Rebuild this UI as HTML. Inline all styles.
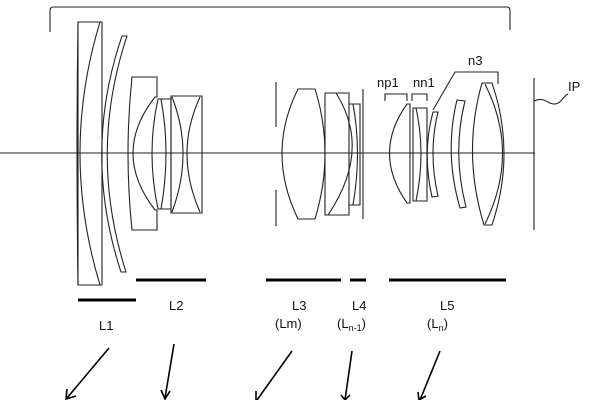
<!DOCTYPE html>
<html><head><meta charset="utf-8"><style>
html,body{margin:0;padding:0;background:#fff}
svg{display:block}
text{font-family:"Liberation Sans","DejaVu Sans",sans-serif;fill:#111}
</style></head><body>
<svg width="600" height="400" viewBox="0 0 600 400" xmlns="http://www.w3.org/2000/svg">
<g fill="none" stroke="#222" stroke-width="1.1">
<path d="M50,32 L50,10 Q50,7 54,7 L507,7 Q510,7 510,11 L510,30"/>
<line x1="0" y1="153" x2="535" y2="153"/>
<path d="M78,22 L102,22 L102,285 L78,285 Z"/>
<path d="M100,22 Q60,153 100,285"/>
<path d="M122,36 L127,36 Q88,153 126,272 L121,272 Q82,153 122,36 Z"/>
<path d="M78,22 Q76,153 78,285"/>
<path d="M132,77 L157,77 L157,97 L155,97 Q111,153 155,210 L157,210 L157,230 L132,230 Q124,153 132,77 Z"/>
<path d="M158,99 L171,99 L171,209 L158,209 Q146,153 158,99 Z"/>
<path d="M161,99 Q171,153 161,209"/>
<path d="M171,96 L202,96 L202,213 L171,213 Z"/>
<path d="M172,97 Q194,153 172,212"/>
<path d="M200,97 Q174,153 200,212"/>
<line x1="276" y1="82" x2="276" y2="127"/>
<line x1="276" y1="190" x2="276" y2="226"/>
<path d="M298,89 L315,89 Q335,153 315,219 L298,219 Q266,153 298,89 Z"/>
<path d="M325,93 L349,93 L349,215 L325,215 Z"/>
<path d="M336,93 Q372,150 328,215"/>
<path d="M349,104 L360,104 L360,205 L349,205"/>
<path d="M353,104 Q362,153 353,205"/>
<line x1="363" y1="89" x2="363" y2="219"/>
<path d="M407,104 L410,104 L410,203 L407,203 Q372,153 407,104 Z"/>
<path d="M413,108 L427,108 L427,201 L413,201 Z"/>
<path d="M416,108 Q426,153 416,201"/>
<path d="M433,112 L438,112 Q428,153 438,196 L432,197 Q422,153 433,112 Z"/>
<path d="M457,100 L465,101 Q452,153 466,207 L460,208 Q444,153 457,100 Z"/>
<path d="M482,83 L492,83 Q516,153 492,225 L484,225 Q462,153 482,83 Z"/>
<path d="M485,84 Q520,153 485,224"/>
<path d="M385,101 L385,94 L407,94 L407,101"/>
<path d="M412,101 L412,94 L427,94 L427,101"/>
<path d="M433,110 L455,72 L498,72 L498,84"/>
<line x1="534" y1="78" x2="534" y2="230"/>
<path d="M534,101 C545,96 548,105 555,104 C562,103 563,96 568,94"/>
</g>
<g stroke="#000" stroke-width="3">
<line x1="136" y1="280" x2="206" y2="280"/>
<line x1="266" y1="280" x2="341" y2="280"/>
<line x1="350" y1="280" x2="366" y2="280"/>
<line x1="389" y1="280" x2="506" y2="280"/>
<line x1="78" y1="300" x2="136" y2="300"/>
</g>
<g stroke="#000" stroke-width="1.6" fill="none">
<line x1="109" y1="348" x2="67" y2="398"/><path d="M67,389 L66,399 L76,396"/>
<line x1="174" y1="344" x2="165" y2="398"/><path d="M161,390 L165,399 L170,391"/>
<line x1="292" y1="351" x2="257" y2="400"/><path d="M256,391 L256,400"/>
<line x1="352" y1="351" x2="345" y2="400"/><path d="M341,395 L345,400 L350,395"/>
<line x1="440" y1="351" x2="420" y2="400"/><path d="M418,392 L419,400 L426,396"/>
</g>
<g font-size="13">
<text x="377" y="87">np1</text>
<text x="413" y="87">nn1</text>
<text x="468" y="65">n3</text>
<text x="568" y="91">IP</text>
<text x="99" y="330">L1</text>
<text x="169" y="310">L2</text>
<text x="292" y="310">L3</text>
<text x="275" y="328">(Lm)</text>
<text x="352" y="310">L4</text>
<text x="337" y="328">(L<tspan font-size="9" dy="3">n-1</tspan><tspan dy="-3">)</tspan></text>
<text x="440" y="310">L5</text>
<text x="427" y="328">(L<tspan font-size="9" dy="3">n</tspan><tspan dy="-3">)</tspan></text>
</g>
</svg>
</body></html>
